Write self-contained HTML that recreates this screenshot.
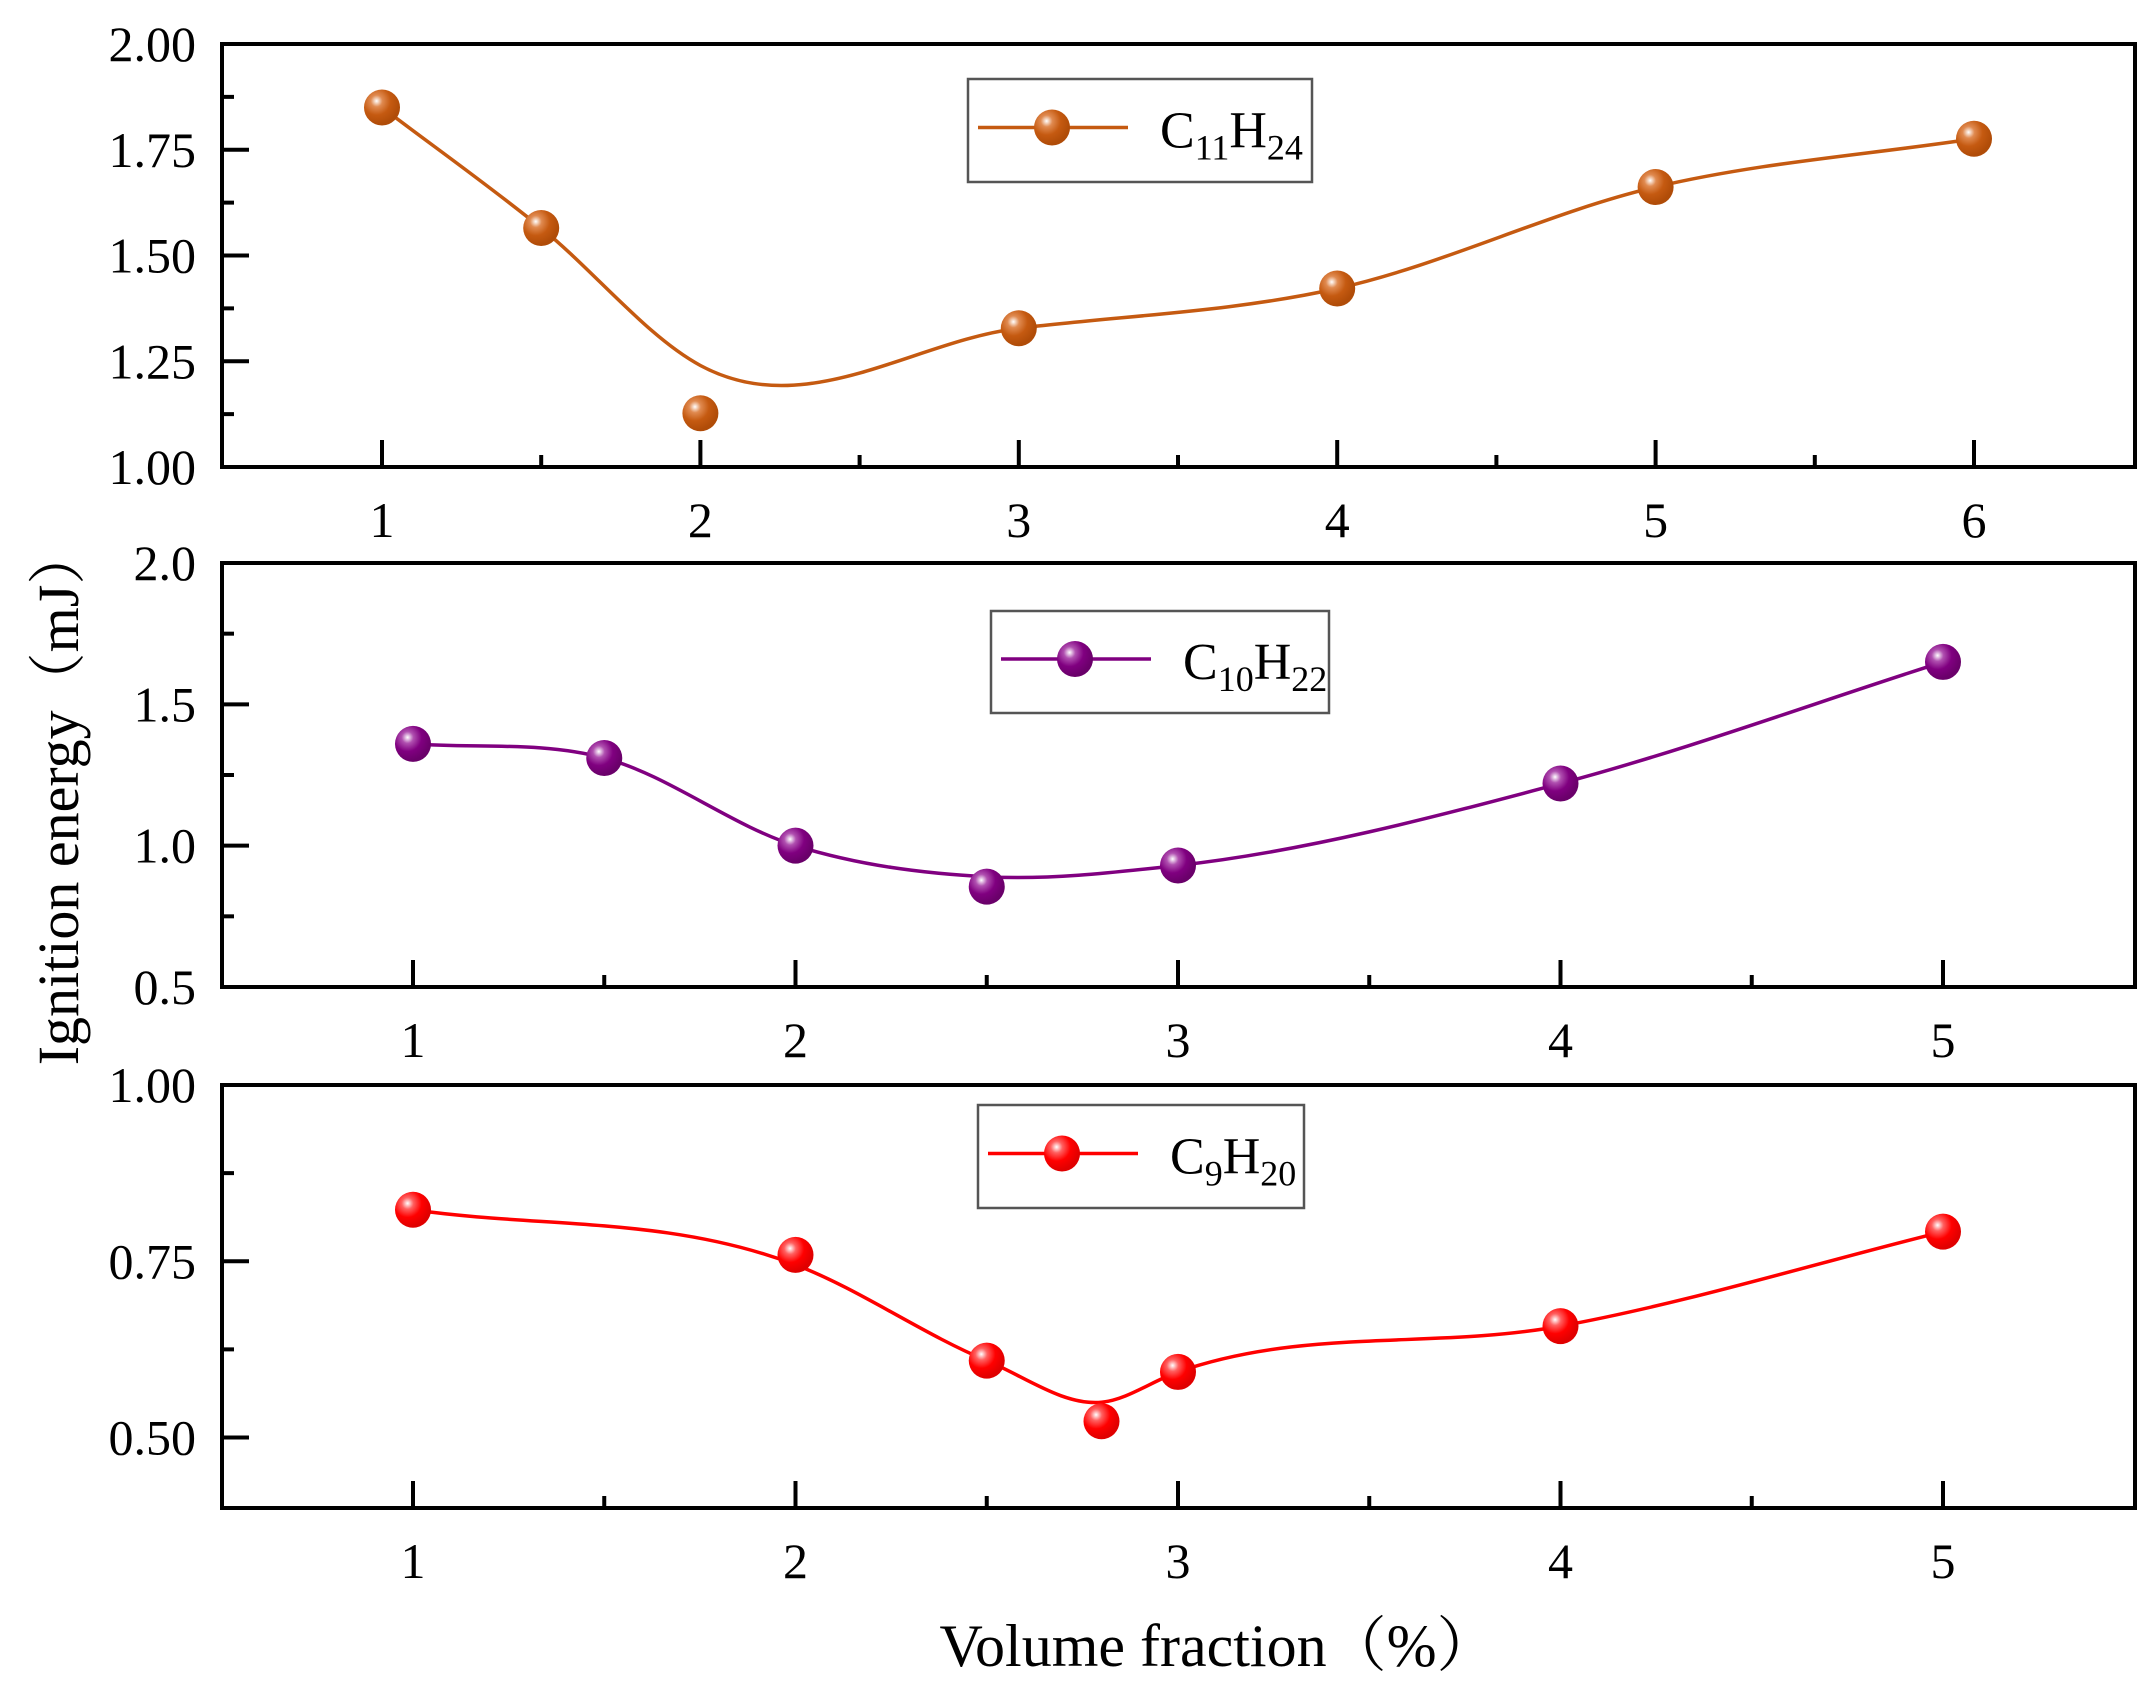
<!DOCTYPE html>
<html><head><meta charset="utf-8"><style>
html,body{margin:0;padding:0;background:#fff;}
svg{display:block;font-family:"Liberation Serif","Noto Serif CJK SC",serif;}
</style></head><body>
<svg id="chart" width="2153" height="1684" viewBox="0 0 2153 1684" xmlns="http://www.w3.org/2000/svg">
<defs>
<radialGradient id="gO" cx="0.35" cy="0.32" r="0.65"><stop offset="0" stop-color="#fff"/><stop offset="0.25" stop-color="#e08a50"/><stop offset="0.6" stop-color="#c55a11"/><stop offset="1" stop-color="#b04c08"/></radialGradient>
<radialGradient id="gP" cx="0.35" cy="0.32" r="0.65"><stop offset="0" stop-color="#fff"/><stop offset="0.25" stop-color="#b050b0"/><stop offset="0.6" stop-color="#800080"/><stop offset="1" stop-color="#6a006a"/></radialGradient>
<radialGradient id="gR" cx="0.35" cy="0.32" r="0.65"><stop offset="0" stop-color="#fff"/><stop offset="0.25" stop-color="#ff6060"/><stop offset="0.6" stop-color="#ff0000"/><stop offset="1" stop-color="#e00000"/></radialGradient>
</defs>
<text transform="translate(78,796) rotate(-90)" text-anchor="middle" font-size="58">Ignition energy（mJ）</text>
<text x="1218" y="1666" text-anchor="middle" font-size="60">Volume fraction（%）</text>
</svg>
<script>
// C11H24 panel
const c11X = [1, 1.5, 2, 3, 4, 5, 6];
const c11Y = [1.85, 1.565, 1.127, 1.328, 1.422, 1.662, 1.776];
const c11Fit = [1.85, 1.565, 1.24, 1.328, 1.422, 1.662, 1.776];
const c11XTicks = [1, 2, 3, 4, 5, 6];
const c11YTicks = ["1.00", "1.25", "1.50", "1.75", "2.00"];
// C10H22 panel
const c10X = [1, 1.5, 2, 2.5, 3, 4, 5];
const c10Y = [1.36, 1.31, 1.0, 0.855, 0.93, 1.22, 1.65];
const c10Fit = [1.36, 1.31, 1.0, 0.89, 0.93, 1.22, 1.65];
const c10XTicks = [1, 2, 3, 4, 5];
const c10YTicks = ["0.5", "1.0", "1.5", "2.0"];
// C9H20 panel
const c9X = [1, 2, 2.5, 2.8, 3, 4, 5];
const c9Y = [0.823, 0.759, 0.609, 0.523, 0.593, 0.658, 0.792];
const c9Fit = [0.823, 0.745, 0.609, 0.55, 0.593, 0.658, 0.792];
const c9XTicks = [1, 2, 3, 4, 5];
const c9YTicks = ["0.50", "0.75", "1.00"];

const NS = "http://www.w3.org/2000/svg";
const svg = document.getElementById("chart");
function mk(tag, attrs, parent) {
  const e = document.createElementNS(NS, tag);
  for (const k in attrs) e.setAttribute(k, attrs[k]);
  (parent || svg).appendChild(e);
  return e;
}
function spline(pts) {
  const n = pts.length;
  const m = pts.map((p, i) => {
    if (i === 0) return (pts[1][1] - p[1]) / (pts[1][0] - p[0]);
    if (i === n - 1) return (p[1] - pts[i - 1][1]) / (p[0] - pts[i - 1][0]);
    const s0 = (p[1] - pts[i - 1][1]) / (p[0] - pts[i - 1][0]);
    const s1 = (pts[i + 1][1] - p[1]) / (pts[i + 1][0] - p[0]);
    const h0 = p[0] - pts[i - 1][0], h1 = pts[i + 1][0] - p[0];
    return (s0 * h1 + s1 * h0) / (h0 + h1);
  });
  let d = "M" + pts[0][0] + "," + pts[0][1];
  for (let i = 0; i < n - 1; i++) {
    const h = pts[i + 1][0] - pts[i][0];
    d += " C" + (pts[i][0] + h / 3) + "," + (pts[i][1] + m[i] * h / 3) + " " +
      (pts[i + 1][0] - h / 3) + "," + (pts[i + 1][1] - m[i + 1] * h / 3) + " " + pts[i + 1][0] + "," + pts[i + 1][1];
  }
  return d;
}
function panel(cfg) {
  const g = mk("g", {});
  
  
  const L = 222, R = 2135, T = cfg.top, B = cfg.bottom;
  const sx = v => cfg.px0 + (v - cfg.x0) * cfg.pxUnit;
  const sy = v => B - (v - cfg.ymin) / (cfg.ymax - cfg.ymin) * (B - T);
  for (let v = cfg.xminTick; v <= cfg.xmaxTick + 1e-9; v += 0.5) {
    const major = Math.abs(v - Math.round(v)) < 1e-9;
    const t = mk("line", {x1: sx(v), x2: sx(v), y1: B, y2: B - (major ? 27 : 12), stroke: "#000", "stroke-width": 4}, g);
    
    
  }
  cfg.xTicks.forEach(v => {
    const t = mk("text", {x: sx(v), y: B + 70, "text-anchor": "middle", "font-size": 50}, g);
    t.textContent = v;
    
    
  });
  const yl = cfg.yTicks.map(Number);
  const step = yl[1] - yl[0];
  for (let v = yl[0] - step / 2; v <= cfg.ymax + 1e-9; v += step / 2) {
    if (v < cfg.ymin - 1e-9) continue;
    const major = yl.some(q => Math.abs(q - v) < 1e-9);
    if (Math.abs(v - cfg.ymax) < 1e-9) continue;
    const t = mk("line", {x1: L, x2: L + (major ? 27 : 12), y1: sy(v), y2: sy(v), stroke: "#000", "stroke-width": 4}, g);
    
    
  }
  cfg.yTicks.forEach(s => {
    const t = mk("text", {x: 196, y: sy(Number(s)) + 17, "text-anchor": "end", "font-size": 50}, g);
    t.textContent = s;
    
    
  });
  const fr = mk("rect", {x: L, y: T, width: R - L, height: B - T, fill: "none", stroke: "#000", "stroke-width": 4}, g);
  
  
  const pts = cfg.xs.map((x, i) => [sx(x), sy(cfg.fit[i])]);
  const p = mk("path", {d: spline(pts), fill: "none", stroke: cfg.color, "stroke-width": 3.5}, g);
  
  
  cfg.xs.forEach((x, i) => {
    const c = mk("circle", {cx: sx(x), cy: sy(cfg.ys[i]), r: 18, fill: "url(#" + cfg.grad + ")"}, g);
    
    
  });
  const lg = mk("g", {}, g);
  
  
  const [lx, ly, lw, lh] = cfg.legend;
  mk("rect", {x: lx, y: ly, width: lw, height: lh, fill: "#fff", stroke: "#555", "stroke-width": 2.5}, lg);
  const cy = ly + lh / 2 - 3;
  mk("line", {x1: lx + 10, x2: lx + 160, y1: cy, y2: cy, stroke: cfg.color, "stroke-width": 3.5}, lg);
  mk("circle", {cx: lx + 84, cy: cy, r: 18, fill: "url(#" + cfg.grad + ")"}, lg);
  const t = mk("text", {x: lx + 192, y: cy + 20, "font-size": 52}, lg);
  
  
  cfg.label.forEach(([s, sub]) => {
    const ts = mk("tspan", sub ? {"font-size": 36, dy: 12} : {"font-size": 52, dy: t.childNodes.length ? -12 : 0}, t);
    ts.textContent = s;
  });
}
panel({name: "panel-c11h24", top: 44, bottom: 467, ymin: 1, ymax: 2, px0: 382, x0: 1, pxUnit: 318.4,
  xminTick: 1, xmaxTick: 6, xTicks: c11XTicks, yTicks: c11YTicks, xs: c11X, ys: c11Y, fit: c11Fit,
  color: "#c55a11", grad: "gO", legend: [968, 79, 344, 103], label: [["C", 0], ["11", 1], ["H", 0], ["24", 1]]});
panel({name: "panel-c10h22", top: 563, bottom: 987, ymin: 0.5, ymax: 2, px0: 413, x0: 1, pxUnit: 382.5,
  xminTick: 1, xmaxTick: 5, xTicks: c10XTicks, yTicks: c10YTicks, xs: c10X, ys: c10Y, fit: c10Fit,
  color: "#800080", grad: "gP", legend: [991, 611, 338, 102], label: [["C", 0], ["10", 1], ["H", 0], ["22", 1]]});
panel({name: "panel-c9h20", top: 1085, bottom: 1508, ymin: 0.4, ymax: 1.0, px0: 413, x0: 1, pxUnit: 382.5,
  xminTick: 1, xmaxTick: 5, xTicks: c9XTicks, yTicks: c9YTicks, xs: c9X, ys: c9Y, fit: c9Fit,
  color: "#ff0000", grad: "gR", legend: [978, 1105, 326, 103], label: [["C", 0], ["9", 1], ["H", 0], ["20", 1]]});
</script>
</body></html>
